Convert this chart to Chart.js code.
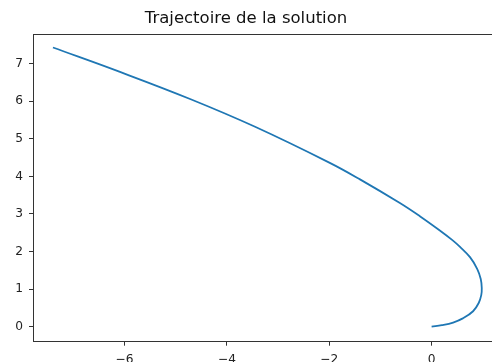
<!DOCTYPE html>
<html>
<head>
<meta charset="utf-8">
<script src="https://cdn.jsdelivr.net/npm/chart.js@4"></script>
<style>
  html, body { margin: 0; padding: 0; background: #fff; overflow: hidden; }
  #wrap { position: relative; width: 492px; height: 362px; }
</style>
</head>
<body>
<div id="wrap"><canvas id="trajChart"></canvas></div>
<script>
// trajectory points, in order from the origin
const trajX = [0, 0.2, 0.42, 0.61, 0.81, 0.92, 0.97, 0.98, 0.96, 0.89, 0.75, 0.55, 0.4, 0.16, -0.23, -0.62, -1.4, -1.99, -3.45, -4.72, -6.09, -7.4];
const trajY = [0, 0.04, 0.11, 0.22, 0.41, 0.63, 0.84, 1.03, 1.27, 1.54, 1.85, 2.13, 2.31, 2.56, 2.94, 3.29, 3.92, 4.36, 5.32, 6.06, 6.78, 7.43];
const xTicks = [-6, -4, -2, 0];
const yTicks = [0, 1, 2, 3, 4, 5, 6, 7];

const points = trajX.map((x, i) => ({ x: x, y: trajY[i] }));

// top spine; the right spine lies outside the cropped picture
const frame = {
    id: 'frame',
    afterDraw(chart) {
        const a = chart.chartArea;
        const c = chart.ctx;
        c.save();
        c.strokeStyle = '#333';
        c.lineWidth = 1;
        c.beginPath();
        c.moveTo(a.left, Math.round(a.top) + 0.5);
        c.lineTo(chart.width, Math.round(a.top) + 0.5);
        c.stroke();
        c.restore();
    }
};

const fmt = v => String(v).replace('-', '\u2212');

const ctx = document.getElementById('trajChart').getContext('2d');
new Chart(ctx, {
    type: 'scatter',
    data: {
        datasets: [{
            data: points,
            showLine: true,
            borderColor: '#1f77b4',
            borderWidth: 1.8,
            pointRadius: 0,
            tension: 0.4,
            fill: false
        }]
    },
    options: {
        responsive: true,
        maintainAspectRatio: false,
        animation: false,
        layout: { padding: 0 },
        plugins: {
            legend: { display: false },
            tooltip: { enabled: false },
            title: {
                display: true,
                text: 'Trajectoire de la solution',
                color: '#111',
                font: { family: 'DejaVu Sans', size: 16.5, weight: 'normal', lineHeight: 1.2 },
                padding: { top: 8.8, bottom: 5.4 }
            }
        },
        scales: {
            x: {
                type: 'linear',
                min: -7.79,
                max: 1.18,
                afterBuildTicks: axis => { axis.ticks = xTicks.map(v => ({ value: v })); },
                afterFit: axis => { axis.height = 20.3; },
                grid: { drawOnChartArea: false, drawTicks: true, tickLength: 4, tickColor: '#333' },
                border: { display: true, color: '#333' },
                ticks: {
                    color: '#222',
                    padding: 7,
                    maxRotation: 0,
                    font: { family: 'DejaVu Sans', size: 12.2 },
                    callback: v => fmt(v)
                }
            },
            y: {
                type: 'linear',
                min: -0.4,
                max: 7.79,
                afterBuildTicks: axis => { axis.ticks = yTicks.map(v => ({ value: v })); },
                afterFit: axis => { axis.width = 33; },
                grid: { drawOnChartArea: false, drawTicks: true, tickLength: 4, tickColor: '#333' },
                border: { display: true, color: '#333' },
                ticks: {
                    color: '#222',
                    padding: 6,
                    font: { family: 'DejaVu Sans', size: 12.2 },
                    callback: v => fmt(v)
                }
            }
        }
    },
    plugins: [frame]
});
</script>
</body>
</html>
